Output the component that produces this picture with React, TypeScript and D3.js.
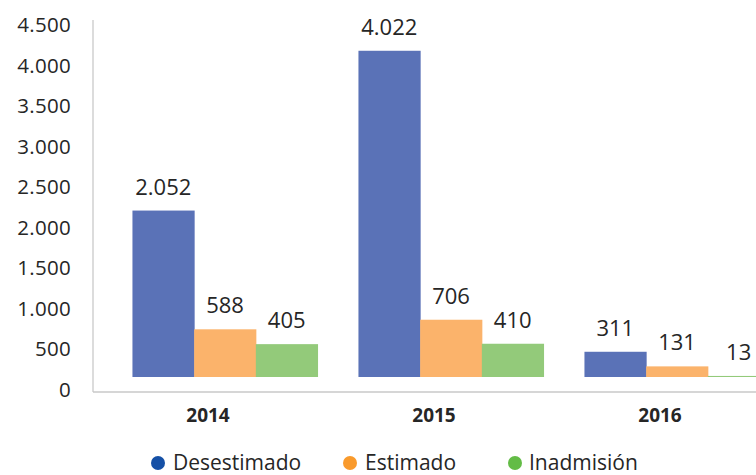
import React from "react";
import * as d3 from "d3";

const years = ["2014", "2015", "2016"];
const seriesNames = ["Desestimado", "Estimado", "Inadmisión"];
const desestimado = [2052, 4022, 311];
const estimado = [588, 706, 131];
const inadmision = [405, 410, 13];
const valueLabels = [
  ["2.052", "4.022", "311"],
  ["588", "706", "131"],
  ["405", "410", "13"],
];
const yTicks = [0, 500, 1000, 1500, 2000, 2500, 3000, 3500, 4000, 4500];
const yTickLabels = ["0", "500", "1.000", "1.500", "2.000", "2.500", "3.000", "3.500", "4.000", "4.500"];

const barColors = ["#5a72b7", "#fbb36b", "#93ca7a"];
const legendColors = ["#1550a6", "#f99a2c", "#63bc46"];

export default function App() {
  const W = 756;
  const H = 475;
  const left = 93;
  const right = 771;
  const axisY = 392;
  const font = "'Open Sans', sans-serif";
  const textColor = "#262626";

  const y = d3.scaleLinear().domain([0, 4500]).range([389, 24]);
  const x0 = d3.scaleBand().domain(years).range([left, right]).paddingInner(0.181).paddingOuter(0.0905);
  const x1 = d3.scaleBand().domain(seriesNames).range([0, x0.bandwidth()]);
  const dx = 19;
  const dy = -12;

  const series = [desestimado, estimado, inadmision];

  const legendItems = [
    { cx: 158, tx: 173 },
    { cx: 350, tx: 365 },
    { cx: 515, tx: 529 },
  ];

  return (
    <svg width={W} height={H} style={{ position: "absolute", left: 0, top: 0, background: "#fff" }}>
      <defs>
        <clipPath id="clip">
          <rect x={0} y={0} width={W} height={H} />
        </clipPath>
      </defs>
      {/* axes */}
      <line x1={left} x2={left} y1={20} y2={axisY} stroke="#d0d0d0" strokeWidth={1.5} />
      <line x1={left} x2={W} y1={axisY} y2={axisY} stroke="#c8c8c8" strokeWidth={1.5} />
      {yTicks.map((t, i) => (
        <text
          key={t}
          x={71}
          y={y(t)}
          textAnchor="end"
          dominantBaseline="central"
          fontFamily={font}
          fontSize={20.5}
          letterSpacing={0.3}
          fill={textColor}
        >
          {yTickLabels[i]}
        </text>
      ))}
      {/* bars */}
      <g clipPath="url(#clip)">
        {series.map((vals, si) =>
          years.map((yr, yi) => {
            const bx = (x0(yr) as number) + (x1(seriesNames[si]) as number) + dx;
            const by = y(vals[yi]) + dy;
            const bh = y(0) - y(vals[yi]);
            return (
              <g key={`${si}-${yi}`}>
                <rect x={bx} y={by} width={x1.bandwidth() + 0.5} height={bh} fill={barColors[si]} />
                <text
                  x={bx + x1.bandwidth() / 2}
                  y={by - 16}
                  textAnchor="middle"
                  fontFamily={font}
                  fontSize={22}
                  fill={textColor}
                >
                  {valueLabels[si][yi]}
                </text>
              </g>
            );
          })
        )}
      </g>
      {/* category labels */}
      {years.map((yr) => (
        <text
          key={yr}
          x={(x0(yr) as number) + x0.bandwidth() / 2 + 2}
          y={422}
          textAnchor="middle"
          fontFamily={font}
          fontWeight="bold"
          fontSize={19}
          fill={textColor}
        >
          {yr}
        </text>
      ))}
      {/* legend */}
      {seriesNames.map((name, i) => (
        <g key={name}>
          <circle cx={legendItems[i].cx} cy={463} r={7} fill={legendColors[i]} />
          <text x={legendItems[i].tx} y={469.5} fontFamily={font} fontSize={21} fill={textColor}>
            {name}
          </text>
        </g>
      ))}
    </svg>
  );
}
